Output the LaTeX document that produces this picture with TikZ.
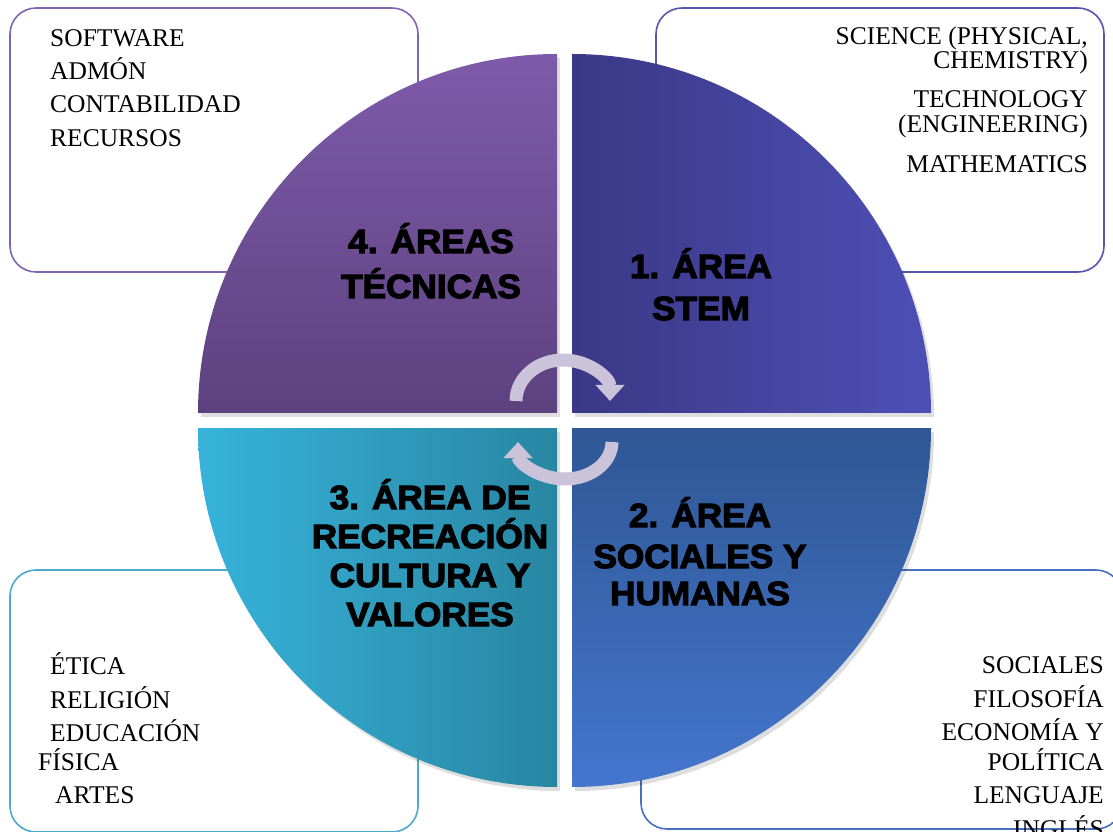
\documentclass[tikz,border=0pt]{standalone}
\usepackage{fontspec}
\setmainfont{Liberation Serif}
\newfontfamily\heavy{Liberation Sans Bold}[FakeBold=3.5,FakeStretch=1.05]
\usetikzlibrary{arrows.meta}
\definecolor{qTLt}{HTML}{7E5BAA}
\definecolor{qTLb}{HTML}{5D417F}
\definecolor{qTRl}{HTML}{3B3886}
\definecolor{qTRr}{HTML}{4E4FB6}
\definecolor{qBRt}{HTML}{2E5794}
\definecolor{qBRb}{HTML}{4576CE}
\definecolor{qBLl}{HTML}{37B3DB}
\definecolor{qBLr}{HTML}{2886A2}
\definecolor{bTL}{HTML}{7F66AE}
\definecolor{bTR}{HTML}{5656B0}
\definecolor{bBL}{HTML}{4BA9CC}
\definecolor{bBR}{HTML}{4870C0}
\definecolor{arrowc}{HTML}{CAC3DA}
\tikzset{
  box/.style={rounded corners=26pt, line width=1.6pt, fill=white},
  item/.style={font=\fontsize{25.5}{30}\selectfont, inner sep=0pt},
  lab/.style={font=\heavy\fontsize{33.5}{40}\selectfont, inner sep=0pt, anchor=base},
  cyc/.style={line width=13pt, draw=arrowc, -{Triangle[length=16pt,width=28pt]}},
  shadowq/.style={fill=black, opacity=0.13},
}
\begin{document}
\begin{tikzpicture}[x=1pt,y=1pt]
\useasboundingbox (0,0) rectangle (1113,831);
\clip (0,0) rectangle (1113,831);
\fill[white] (0,0) rectangle (1113,831);

% boxes
\draw[box, draw=bTL] (10,559) rectangle (418,823);
\draw[box, draw=bTR] (656,559) rectangle (1104,823);
\draw[box, draw=bBL] (10,-1) rectangle (418,261);
\draw[box, draw=bBR] (641,2) rectangle (1122,261);

% box texts
\node[item, anchor=base west] (s1) at (50,784) {SOFTWARE};
\node[item, anchor=base west] (s2) at (50,751) {ADMÓN};
\node[item, anchor=base west] (s3) at (50,718) {CONTABILIDAD};
\node[item, anchor=base west] (s4) at (50,684) {RECURSOS};

\node[item, anchor=base east] (e1) at (1088,786) {SCIENCE (PHYSICAL,};
\node[item, anchor=base east] (e2) at (1088,762) {CHEMISTRY)};
\node[item, anchor=base east] (e3) at (1088,723) {TECHNOLOGY};
\node[item, anchor=base east] (e4) at (1088,698) {(ENGINEERING)};
\node[item, anchor=base east] (e5) at (1088,658) {MATHEMATICS};

\node[item, anchor=base west] (v1) at (50,157) {ÉTICA};
\node[item, anchor=base west] (v2) at (50,123) {RELIGIÓN};
\node[item, anchor=base west] (v3) at (50,90) {EDUCACIÓN};
\node[item, anchor=base west] (v4) at (38,61) {FÍSICA};
\node[item, anchor=base west] (v5) at (55,28) {ARTES};

\node[item, anchor=base east] (h1) at (1104,158) {SOCIALES};
\node[item, anchor=base east] (h2) at (1104,124) {FILOSOFÍA};
\node[item, anchor=base east] (h3) at (1104,91) {ECONOMÍA Y};
\node[item, anchor=base east] (h4) at (1104,61) {POLÍTICA};
\node[item, anchor=base east] (h5) at (1104,28) {LENGUAJE};
\node[item, anchor=base east] (h6) at (1104,-6) {INGLÉS};

% shadows
\begin{scope}[shift={(3,-4)}]
\fill[shadowq] (557,418) -- (198,418) arc[start angle=180,end angle=90,radius=359] -- cycle;
\fill[shadowq] (572,418) -- (931,418) arc[start angle=0,end angle=90,radius=359] -- cycle;
\fill[shadowq] (557,403) -- (198,403) arc[start angle=180,end angle=270,radius=359] -- cycle;
\fill[shadowq] (572,403) -- (931,403) arc[start angle=0,end angle=-90,radius=359] -- cycle;
\end{scope}

% quarters
\shade[top color=qTLt, bottom color=qTLb] (557,418) -- (198,418) arc[start angle=180,end angle=90,radius=359] -- cycle;
\shade[left color=qTRl, right color=qTRr] (572,418) -- (931,418) arc[start angle=0,end angle=90,radius=359] -- cycle;
\shade[left color=qBLl, right color=qBLr] (557,403) -- (198,403) arc[start angle=180,end angle=270,radius=359] -- cycle;
\shade[top color=qBRt, bottom color=qBRb] (572,403) -- (931,403) arc[start angle=0,end angle=-90,radius=359] -- cycle;

% labels
\node[lab] (a4a) at (431,578) {4. ÁREAS};
\node[lab] (a4b) at (431,533) {TÉCNICAS};
\node[lab] (a1a) at (701,553) {1. ÁREA};
\node[lab] (a1b) at (701,511) {STEM};
\node[lab] (a2a) at (700,304) {2. ÁREA};
\node[lab] (a2b) at (700,263) {SOCIALES Y};
\node[lab] (a2c) at (700,226) {HUMANAS};
\node[lab] (a3a) at (430,322) {3. ÁREA DE};
\node[lab] (a3b) at (430,283) {RECREACIÓN};
\node[lab] (a3c) at (430,244) {CULTURA Y};
\node[lab] (a3d) at (430,205) {VALORES};

% cycle arrows
\coordinate (u0) at (516,430);
\coordinate (d0) at (612,389);
\draw[cyc] (u0) arc[start angle=180,end angle=0,x radius=47,y radius=41];
\draw[cyc] (d0) arc[start angle=0,end angle=-180,x radius=47,y radius=37];
\end{tikzpicture}
\end{document}
